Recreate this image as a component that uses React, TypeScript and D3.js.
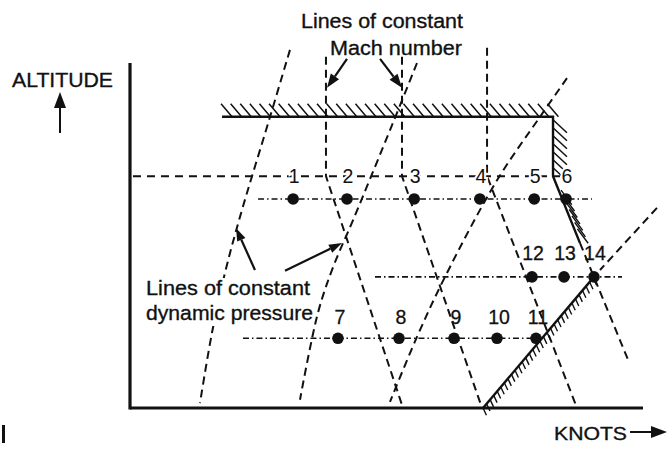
import React from "react";
import * as d3 from "d3";

// ---- data (knots units, altitude in thousands of feet) ----
const row1Labels = ["1", "2", "3", "4", "5", "6"];
const row1Knots = [159, 211.5, 277, 341, 394, 425];
const row1Alt = 30.3;
const row2Labels = ["7", "8", "9", "10", "11"];
const row2Knots = [202.7, 262.2, 315.8, 357.7, 395.7];
const row2Alt = 10.1;
const row3Labels = ["12", "13", "14"];
const row3Knots = [391.8, 423, 452.2];
const row3Alt = 19.0;

const row1Span = [124.8, 450.3];
const row2Span = [110.1, 399.6];
const row3Span = [238.8, 479.5];

const tropoAlt = 33.6;
const tropoSpan = [2.9, 419.1];

// upper limit (ceiling + max Mach)
const ceilingKnots = [89.7, 412.3, 412.3, 438.6];
const ceilingAlt = [42.2, 42.2, 33.6, 23.9];
const machLimitDashKnots = [438.6, 485.4];
const machLimitDashAlt = [23.9, 7.0];

// constant Mach lines: [top, tropopause break, ground]
const machKnots = [
  [191.0, 191.0, 266.1],
  [265.1, 265.1, 343.1],
  [348.0, 348.0, 435.7],
];
const machAlt = [
  [50.9, 33.6, 0],
  [50.9, 33.6, 0],
  [52.2, 33.6, 0],
];

// constant dynamic pressure lines
const qKnots = [
  [155.9, 136.5, 107.2, 92.6, 79.9, 68.2],
  [279.7, 255.4, 217.3, 197.9, 183.2, 165.7],
  [425.9, 399.6, 357.7, 307.0, 279.7, 253.4],
];
const qAlt = [
  [51.9, 42.2, 27.7, 19.6, 10.9, 0.7],
  [50.0, 41.0, 27.2, 20.4, 13.8, 1.2],
  [47.8, 42.2, 33.0, 19.0, 10.3, 0.9],
];
const qDashKnots = [513.6, 458.1];
const qDashAlt = [29.0, 20.0];
// max dynamic pressure limit (solid, hatched)
const qLimitKnots = [344.1, 452.2];
const qLimitAlt = [0, 19.0];

// annotation arrows [fromKnots, fromAlt, toKnots, toAlt]
const machArrows = [
  [211.5, 50.6, 192.0, 46.4],
  [243.7, 50.6, 265.1, 46.4],
];
const qArrows = [
  [121.8, 20.0, 103.3, 26.1],
  [151.1, 19.9, 206.6, 23.9],
];

const W = 667;
const H = 451;
const x = d3.scaleLinear().domain([0, 500]).range([130, 643]);
const y = d3.scaleLinear().domain([0, 50]).range([408, 63]);

const FONT = "'Liberation Sans', Arial, Helvetica, sans-serif";
const dash = "8 5";
const dashDot = "6 3 1.5 3";
const INK = "#111";

function zip(xs: number[], ys: number[]): [number, number][] {
  return xs.map((v, i) => [x(v), y(ys[i])]);
}

const lineLin = d3.line<[number, number]>().x((d) => d[0]).y((d) => d[1]);
const lineCurve = d3
  .line<[number, number]>()
  .x((d) => d[0])
  .y((d) => d[1])
  .curve(d3.curveCatmullRom.alpha(0.5));

function hatch(
  p0: [number, number],
  p1: [number, number],
  spacing: number,
  dx: number,
  dy: number,
  len: number
) {
  const L = Math.hypot(p1[0] - p0[0], p1[1] - p0[1]);
  const n = Math.floor(L / spacing);
  const segs: string[] = [];
  const nrm = Math.hypot(dx, dy);
  const ux = (dx / nrm) * len;
  const uy = (dy / nrm) * len;
  for (let i = 0; i <= n; i++) {
    const t = (i * spacing) / L;
    const px = p0[0] + (p1[0] - p0[0]) * t;
    const py = p0[1] + (p1[1] - p0[1]) * t;
    segs.push(`M${px},${py}L${px + ux},${py + uy}`);
  }
  return segs.join("");
}

function Arrow({ a, size = 12, width = 8 }: { a: number[]; size?: number; width?: number }) {
  const x1 = x(a[0]), y1 = y(a[1]), x2 = x(a[2]), y2 = y(a[3]);
  const ang = Math.atan2(y2 - y1, x2 - x1);
  const bx = x2 - Math.cos(ang) * size;
  const by = y2 - Math.sin(ang) * size;
  const px = -Math.sin(ang) * (width / 2);
  const py = Math.cos(ang) * (width / 2);
  return (
    <g>
      <line x1={x1} y1={y1} x2={bx} y2={by} stroke={INK} strokeWidth={2.2} />
      <polygon points={`${x2},${y2} ${bx + px},${by + py} ${bx - px},${by - py}`} fill={INK} />
    </g>
  );
}

export default function App() {
  const ceil = zip(ceilingKnots, ceilingAlt);
  const qLim = zip(qLimitKnots, qLimitAlt);
  const topHatch = hatch([ceil[0][0] + 10, ceil[0][1]], [ceil[1][0] + 12, ceil[1][1]], 9.6, -11, -13, 17);
  const rightHatch = hatch([ceil[1][0], ceil[1][1] + 3], [ceil[2][0], ceil[2][1] - 4], 8, 14, 13, 19);
  const slantHatch = hatch([ceil[2][0] + 8, ceil[2][1] + 14], [ceil[3][0], ceil[3][1] - 8], 7, 0.6, 0.8, 18);
  const qHatch = hatch(qLim[0], qLim[1], 5.5, 0.42, 0.9, 8);

  const tropoY = y(tropoAlt);

  return (
    <svg
      width={W}
      height={H}
      viewBox={`0 0 ${W} ${H}`}
      style={{ position: "absolute", left: 0, top: 0, background: "#fff" }}
      fontFamily={FONT}
    >
      <rect width={W} height={H} fill="#fff" />

      {/* tropopause dashed line */}
      <line
        x1={x(tropoSpan[0])}
        x2={x(tropoSpan[1])}
        y1={tropoY}
        y2={tropoY}
        stroke={INK}
        strokeWidth={2}
        strokeDasharray="8 6"
      />

      {/* constant Mach lines */}
      {machKnots.map((k, i) => (
        <path
          key={"m" + i}
          d={lineLin(zip(k, machAlt[i])) || ""}
          fill="none"
          stroke={INK}
          strokeWidth={2}
          strokeDasharray={dash}
        />
      ))}
      <path
        d={lineLin(zip(machLimitDashKnots, machLimitDashAlt)) || ""}
        fill="none"
        stroke={INK}
        strokeWidth={2}
        strokeDasharray={dash}
      />

      {/* constant q lines */}
      {qKnots.map((k, i) => (
        <path
          key={"q" + i}
          d={lineCurve(zip(k, qAlt[i])) || ""}
          fill="none"
          stroke={INK}
          strokeWidth={2}
          strokeDasharray={dash}
        />
      ))}
      <path
        d={lineLin(zip(qDashKnots, qDashAlt)) || ""}
        fill="none"
        stroke={INK}
        strokeWidth={2}
        strokeDasharray={dash}
      />

      {/* limits */}
      <path d={lineLin(ceil) || ""} fill="none" stroke={INK} strokeWidth={2.4} />
      <path d={topHatch} stroke={INK} strokeWidth={1.5} />
      <path d={rightHatch} stroke={INK} strokeWidth={1.5} />
      <path d={slantHatch} stroke={INK} strokeWidth={1.4} />
      <path d={lineLin(qLim) || ""} fill="none" stroke={INK} strokeWidth={2.4} />
      <path d={qHatch} stroke={INK} strokeWidth={1.4} />

      {/* test point rows */}
      {[
        [row1Span, row1Alt],
        [row2Span, row2Alt],
        [row3Span, row3Alt],
      ].map(([span, alt], i) => (
        <line
          key={"r" + i}
          x1={x((span as number[])[0])}
          x2={x((span as number[])[1])}
          y1={y(alt as number)}
          y2={y(alt as number)}
          stroke={INK}
          strokeWidth={1.6}
          strokeDasharray={dashDot}
        />
      ))}
      {row1Knots.map((k, i) => (
        <circle key={"a" + i} cx={x(k)} cy={y(row1Alt)} r={5.8} fill={INK} />
      ))}
      {row2Knots.map((k, i) => (
        <circle key={"b" + i} cx={x(k)} cy={y(row2Alt)} r={5.8} fill={INK} />
      ))}
      {row3Knots.map((k, i) => (
        <circle key={"c" + i} cx={x(k)} cy={y(row3Alt)} r={5.8} fill={INK} />
      ))}

      {/* point labels */}
      <g fontSize={19.5} fill={INK} textAnchor="middle">
        {row1Labels.map((t, i) => (
          <text
            key={"la" + i}
            x={x(row1Knots[i]) + 1}
            y={tropoY + 6.5}
            stroke="#fff"
            strokeWidth={4}
            paintOrder="stroke"
          >
            {t}
          </text>
        ))}
        {row2Labels.map((t, i) => (
          <text key={"lb" + i} x={x(row2Knots[i]) + 2} y={y(row2Alt) - 14} stroke={INK} strokeWidth={0.3}>
            {t}
          </text>
        ))}
        {row3Labels.map((t, i) => (
          <text key={"lc" + i} x={x(row3Knots[i]) + 1} y={y(row3Alt) - 17} stroke={INK} strokeWidth={0.3}>
            {t}
          </text>
        ))}
      </g>

      {/* axes */}
      <line x1={x(0)} x2={x(0)} y1={y(50)} y2={y(0) + 1.5} stroke={INK} strokeWidth={3.2} />
      <line x1={x(0)} x2={x(500)} y1={y(0)} y2={y(0)} stroke={INK} strokeWidth={3.2} />

      {/* white backing behind lower-left label */}
      <rect x={144} y={278} width={168} height={48} fill="#fff" />

      {/* annotations */}
      <g fill={INK} fontSize={20.5} stroke={INK} strokeWidth={0.35}>
        <text x={301} y={28} textLength={162} lengthAdjust="spacingAndGlyphs">Lines of constant</text>
        <text x={330} y={55} textLength={132} lengthAdjust="spacingAndGlyphs">Mach number</text>
        <text x={146} y={295} textLength={164} lengthAdjust="spacingAndGlyphs">Lines of constant</text>
        <text x={146} y={320} textLength={167} lengthAdjust="spacingAndGlyphs">dynamic pressure</text>
        <text x={12} y={87} textLength={101} lengthAdjust="spacingAndGlyphs">ALTITUDE</text>
        <text x={554} y={440} fontSize={19} textLength={73} lengthAdjust="spacingAndGlyphs">KNOTS</text>
      </g>
      {machArrows.map((a, i) => (
        <Arrow key={"ma" + i} a={a} size={14} width={10} />
      ))}
      {qArrows.map((a, i) => (
        <Arrow key={"qa" + i} a={a} size={13} width={9} />
      ))}

      {/* axis direction arrows */}
      <line x1={60} y1={133} x2={60} y2={105} stroke={INK} strokeWidth={2} />
      <polygon points="60,92 54,108 66,108" fill={INK} />
      <line x1={630} y1={432} x2={654} y2={432} stroke={INK} strokeWidth={2} />
      <polygon points="667,432 651,426 651,438" fill={INK} />

      {/* scanning artifact mark */}
      <rect x={2} y={425} width={3} height={18} fill={INK} />
    </svg>
  );
}
